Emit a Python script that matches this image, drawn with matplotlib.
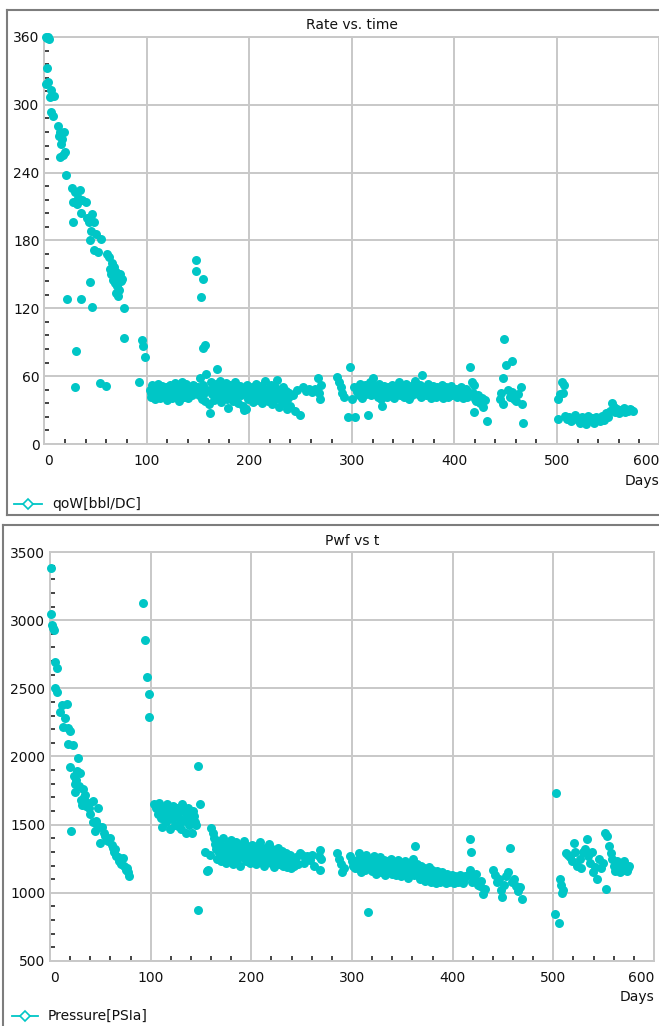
import numpy as np
import matplotlib
matplotlib.use("Agg")
import matplotlib.pyplot as plt
from matplotlib.ticker import MultipleLocator
from matplotlib.lines import Line2D

# ---------------- data (day, value) ----------------
rate_early = [(1,360),(2,359),(3,360),(4,358),(2,333),(1,318),(3,320),(6,313),(5,307),(9,308),
              (6,294),(8,290),(13,281),(15,276),(19,276),(14,272),(17,270),(16,265),(20,258),(15,254),
              (18,256),(21,238),(27,226),(30,223),(35,225),(33,218),(28,214),(37,216),(40,214),(32,212),
              (28,196),(36,204),(41,200),(46,203),(43,196),(48,196),(45,188),(50,186),(44,180),(55,181),
              (48,172),(52,170),(61,168),(63,165),(66,160),(64,155),(68,157),(65,150),(70,152),(72,148),
              (74,150),(67,145),(69,142),(71,140),(75,144),(73,136),(70,134),(72,131),(76,146),(78,120),
              (22,128),(36,128),(44,143),(46,121),(31,82),(78,94),(30,50),(54,54),(60,51),(92,55),
              (95,92),(96,87),(98,77)]
rate_mid1 = [(103,48),(104,42),(105,52),(106,45),(107,50),(108,40),(109,47),(110,44),(111,53),(112,49),
             (113,41),(114,46),(115,51),(116,43),(117,48),(118,45),(119,50),(120,39),(121,47),(122,52),
             (123,44),(124,49),(125,42),(126,46),(127,54),(128,48),(129,43),(130,51),(131,38),(132,47),
             (133,45),(134,55),(135,50),(136,42),(137,48),(138,53),(139,46),(140,41),(141,49),(142,44),
             (143,50),(144,47),(145,52),(146,45),(147,49),(148,48),(104,45),(108,51),(112,43),(116,49),
             (120,46),(124,41),(128,50),(132,44),(136,52),(140,47),(144,43),(146,51),
             (148,163),(148,153),(155,146),(153,130),(155,85),(157,88)]
rate_mid2 = [(150,50),(151,43),(152,58),(153,47),(154,40),(155,52),(156,45),(157,38),(158,62),(159,48),
             (160,35),(161,27),(162,55),(163,44),(164,50),(165,39),(166,47),(167,53),(168,66),(169,42),
             (170,49),(171,56),(172,37),(173,45),(174,51),(175,43),(176,48),(177,54),(178,40),(179,32),
             (180,46),(181,52),(182,44),(183,50),(184,38),(185,47),(186,55),(187,42),(188,48),(189,36),
             (190,45),(191,51),(192,43),(193,49),(194,34),(195,30),(196,46),(197,31),(198,52),(199,40),
             (200,47),(201,44),(202,50),(203,37),(204,48),(205,42),(206,53),(207,45),(208,39),(209,49),
             (210,43),(211,51),(212,36),(213,47),(214,41),(215,56),(216,44),(217,49),(218,38),(219,46),
             (220,42),(221,52),(222,35),(223,47),(224,43),(225,50),(226,40),(227,57),(228,45),(229,33),
             (230,48),(231,42),(232,38),(233,50),(234,44),(235,36),(236,47),(237,31),(238,41),(239,45),
             (240,34),(242,43),(244,29),(246,48),(249,26),(252,50),(255,47),(258,49),(261,46),(264,49),
             (267,58),(268,45),(269,40),(270,52)]
rate_mid3 = [(285,59),(287,55),(289,50),(290,45),(292,42),(298,68),(300,40),(296,24),(303,24),(302,50),
             (305,46),(306,50),(307,43),(308,53),(309,47),(310,41),(311,49),(312,45),(313,52),(314,44),
             (316,26),(317,48),(318,55),(319,43),(320,58),(321,47),(322,51),(323,44),(324,49),(325,42),
             (326,53),(327,46),(328,40),(329,34),(330,48),(331,51),(332,44),(333,47),(334,42),(335,50),
             (336,45),(337,48),(338,43),(339,52),(340,46),(341,41),(342,49),(343,44),(344,51),(345,47),
             (346,55),(347,43),(348,48),(349,45),(350,50),(351,42),(352,47),(353,53),(354,44),(355,49),
             (356,40),(357,46),(358,51),(359,43),(360,48),(361,56),(362,45),(363,50),(364,44),(365,47),
             (366,52),(367,42),(368,61),(369,48),(370,45),(371,50),(372,43),(373,47),(374,53),(375,44),
             (376,49),(377,41),(378,46),(379,51),(380,44),(381,48),(382,42),(383,50),(384,46),(385,43),
             (386,49),(387,45),(388,52),(389,41),(390,47),(391,44),(392,50),(393,46),(394,42),(395,48),
             (396,45),(397,51),(398,43),(399,47),(400,44),(401,49),(402,42),(403,46),(404,48),(405,43),
             (406,50),(407,45),(408,41),(409,47),(410,44),(411,49),(412,42),(413,46)]
rate_late = [(415,68),(417,55),(419,52),(418,45),(420,40),(419,28),(421,38),(423,43),(425,36),(427,41),
             (428,33),(430,39),(432,20),(444,40),(445,45),(447,35),(447,58),(448,93),(450,70),(452,48),
             (454,42),(456,73),(456,46),(458,40),(460,38),(462,44),(465,50),(466,35),(467,19),
             (501,40),(501,22),(503,44),(505,55),(507,52),(506,45),(508,25),(510,22),(512,24),(514,20),
             (516,23),(518,26),(520,21),(522,19),(524,24),(526,22),(528,18),(530,25),(532,21),(534,23),
             (536,19),(538,24),(540,22),(542,20),(544,25),(546,21),(548,27),(550,24),(552,29),(554,36),
             (555,31),(556,33),(557,28),(559,31),(560,27),(562,30),(563,29),(565,32),(566,28),(568,30),
             (569,29),(571,31),(572,30),(574,29)]

pwf_early = [(1,3383),(1,3045),(2,2965),(3,2945),(4,2930),(5,2693),(7,2650),(5,2500),(7,2470),(12,2380),
             (17,2385),(10,2330),(15,2280),(13,2220),(18,2210),(20,2190),(18,2090),(23,2085),(28,1990),(20,1923),
             (27,1890),(30,1880),(25,1800),(29,1780),(33,1760),(25,1740),(35,1720),(31,1680),(38,1660),(32,1645),
             (36,1640),(43,1670),(48,1620),(21,1453),(40,1580),(43,1520),(47,1500),(45,1450),(52,1480),(50,1365),
             (55,1420),(60,1400),(58,1380),(62,1350),(63,1330),(64,1300),(66,1270),(68,1260),(70,1240),(73,1253),
             (74,1200),(75,1170),(76,1180),(78,1120),(77,1150),(71,1210),(69,1230),(65,1320),(57,1390),(54,1440),
             (49,1480),(46,1530),(39,1620),(34,1700),(26,1830),(24,1860),
             (92,3126),(94,2855),(96,2580),(98,2460),(98,2290)]
pwf_mid1 = [(103,1650),(105,1620),(107,1580),(108,1660),(110,1550),(111,1480),(112,1620),(114,1600),(115,1520),(116,1650),
            (118,1570),(119,1470),(120,1610),(121,1540),(122,1640),(124,1500),(125,1580),(126,1620),(128,1550),(129,1600),
            (130,1470),(131,1650),(132,1530),(134,1590),(135,1440),(136,1560),(137,1620),(138,1500),(139,1580),(140,1540),
            (141,1440),(142,1600),(143,1560),(144,1520),(145,1500),(113,1560),(117,1590),(123,1560),(127,1490),(133,1610),
            (147,1930),(149,1650),(147,875),(154,1300),(156,1160),(157,1170),(159,1280),(160,1475),(162,1440),(163,1400),
            (164,1360)]
pwf_mid2 = [(165,1320),(166,1250),(167,1380),(168,1290),(169,1350),(170,1230),(171,1310),(172,1400),(173,1270),(174,1340),
            (175,1220),(176,1300),(177,1360),(178,1250),(179,1320),(180,1390),(181,1280),(182,1210),(183,1330),(184,1290),
            (185,1370),(186,1240),(187,1310),(188,1350),(189,1200),(190,1280),(191,1330),(192,1260),(193,1380),(194,1300),
            (195,1230),(196,1340),(197,1270),(198,1310),(199,1220),(200,1290),(201,1350),(202,1250),(203,1320),(204,1280),
            (205,1210),(206,1340),(207,1300),(208,1260),(209,1370),(210,1230),(211,1310),(212,1280),(213,1200),(214,1330),
            (215,1270),(216,1300),(217,1240),(218,1360),(219,1290),(220,1220),(221,1320),(222,1260),(223,1190),(224,1300),
            (225,1250),(226,1330),(227,1210),(228,1280),(229,1240),(230,1310),(231,1200),(232,1270),(233,1230),(234,1290),
            (235,1190),(236,1250),(237,1220),(238,1280),(239,1180),(240,1240),(242,1200),(244,1260),(246,1210),(248,1290),
            (250,1280),(252,1220),(255,1270),(258,1240),(260,1280),(262,1200),
            (268,1314),(268,1170),(267,1270),(269,1250)]
pwf_mid3 = [(285,1292),(287,1250),(289,1210),(290,1150),(292,1180),(298,1270),(300,1230),(301,1200),(303,1180),
            (305,1240),(306,1180),(307,1290),(308,1210),(309,1150),(310,1260),(311,1200),(312,1230),(313,1170),(314,1280),
            (316,860),(317,1220),(318,1190),(319,1250),(320,1160),(321,1230),(322,1270),(323,1200),(324,1140),(325,1240),
            (326,1180),(327,1210),(328,1260),(329,1150),(330,1220),(331,1190),(332,1240),(333,1130),(334,1200),(335,1170),
            (336,1230),(337,1160),(338,1210),(339,1250),(340,1140),(341,1190),(342,1220),(343,1170),(344,1130),(345,1200),
            (346,1240),(347,1160),(348,1190),(349,1120),(350,1210),(351,1150),(352,1180),(353,1230),(354,1140),(355,1200),
            (356,1110),(357,1170),(358,1220),(359,1150),(360,1190),(361,1250),(362,1130),(363,1340),(364,1180),(365,1210),
            (366,1140),(367,1170),(368,1100),(369,1200),(370,1150),(371,1130),(372,1180),(373,1090),(374,1160),(375,1120),
            (376,1190),(377,1140),(378,1080),(379,1170),(380,1110),(381,1150),(382,1130),(383,1070),(384,1160),(385,1100),
            (386,1140),(387,1080),(388,1120),(389,1150),(390,1090),(391,1130),(392,1100),(393,1070),(394,1140),(395,1110),
            (396,1080),(397,1120),(398,1090),(399,1130),(400,1100),(401,1070),(402,1120),(403,1090),(404,1110),(405,1080),
            (406,1100),(407,1130),(408,1090),(409,1110),(410,1070),(411,1100),(412,1120)]
pwf_late = [(417,1393),(418,1300),(415,1130),(417,1170),(419,1080),(421,1110),(423,1140),(425,1060),(427,1050),(428,1090),
            (430,990),(432,1030),(440,1170),(442,1130),(444,1080),(446,1100),(448,1020),(449,970),(451,1060),(453,1120),
            (455,1150),(457,1330),(459,1080),(461,1100),(463,1050),(465,1010),(467,1040),(469,955),
            (503,1730),(502,845),(506,780),(507,1100),(508,1060),(509,1000),(510,1020),(513,1290),(515,1280),(517,1260),
            (519,1230),(521,1365),(522,1300),(524,1200),(526,1250),(527,1180),(529,1300),(531,1320),(533,1393),(534,1270),
            (536,1220),(538,1300),(539,1150),(541,1190),(543,1100),(545,1250),(547,1180),(549,1220),(551,1440),(553,1420),
            (552,1030),(555,1340),(557,1290),(558,1250),(560,1200),(561,1160),(563,1230),(564,1180),(566,1150),(567,1210),
            (569,1170),(570,1230),(572,1190),(573,1160),(575,1200),(574,1180)]

x_ticks = [0, 100, 200, 300, 400, 500, 600]
rate_ticks = [0, 60, 120, 180, 240, 300, 360]
pwf_ticks = [500, 1000, 1500, 2000, 2500, 3000, 3500]

# ---------------- figure ----------------
W, H = 659, 1026
fig = plt.figure(figsize=(W / 100, H / 100), dpi=100)
fig.patch.set_facecolor("white")

DOT = "#00c6c6"
GRID = "#c8c8c8"
TXT = "#111111"


def fx(x):
    return x / W


def fy(y):
    return 1 - y / H


def px_axes(l, t, r, b):
    return fig.add_axes([fx(l), fy(b), (r - l) / W, (b - t) / H])


def style(ax, xmin_loc, ymin_loc):
    ax.set_facecolor("white")
    ax.grid(True, color=GRID, linewidth=1.4)
    ax.set_axisbelow(True)
    for s in ax.spines.values():
        s.set_color(GRID)
        s.set_linewidth(1.4)
    ax.xaxis.set_minor_locator(MultipleLocator(xmin_loc))
    ax.yaxis.set_minor_locator(MultipleLocator(ymin_loc))
    ax.tick_params(which="major", length=0, labelsize=10, colors=TXT)
    ax.tick_params(which="minor", direction="in", length=3.8, width=1.1, color="#111111")
    ax.tick_params(axis="x", which="major", pad=7.5)
    ax.tick_params(axis="y", which="major", pad=3.5)


def frame(lines):
    for (x0, y0, x1, y1) in lines:
        fig.add_artist(Line2D([fx(x0), fx(x1)], [fy(y0), fy(y1)], color="#7d7d7d",
                              linewidth=1.5, transform=fig.transFigure))


def legend(x0, x1, y, xt, label):
    fig.add_artist(Line2D([fx(x0), fx(x1)], [fy(y), fy(y)], color=DOT, linewidth=1.3,
                          transform=fig.transFigure))
    fig.add_artist(Line2D([fx((x0 + x1) / 2)], [fy(y)], marker="D", markersize=5.5,
                          markerfacecolor="white", markeredgecolor=DOT, markeredgewidth=1.2,
                          linestyle="none", transform=fig.transFigure))
    fig.text(fx(xt), fy(y), label, fontsize=10, va="center", ha="left", color=TXT)


# frames
frame([(7, 10, 659, 10), (7, 10, 7, 515), (7, 515, 659, 515)])
frame([(3, 525, 659, 525), (3, 525, 3, 1026)])

# ---- top panel ----
ax1 = px_axes(44.5, 37, 659.5, 444)
rate = np.array(rate_early + rate_mid1 + rate_mid2 + rate_mid3 + rate_late, dtype=float)
ax1.scatter(rate[:, 0], rate[:, 1], s=42, color=DOT, linewidths=0, clip_on=False, zorder=3)
ax1.set_xlim(0, 600)
ax1.set_ylim(0, 360)
ax1.set_xticks(x_ticks)
ax1.set_yticks(rate_ticks)
style(ax1, 20, 12)
fig.text(fx(352), fy(25), "Rate vs. time", fontsize=10, ha="center", va="center", color=TXT)
fig.text(fx(659), fy(481), "Days", fontsize=10, ha="right", va="center", color=TXT)
legend(14, 42, 504, 52, "qoW[bbl/DC]")

# ---- bottom panel ----
ax2 = px_axes(50, 552, 654, 961)
pwf = np.array(pwf_early + pwf_mid1 + pwf_mid2 + pwf_mid3 + pwf_late, dtype=float)
ax2.scatter(pwf[:, 0], pwf[:, 1], s=42, color=DOT, linewidths=0, clip_on=False, zorder=3)
ax2.set_xlim(0, 600)
ax2.set_ylim(500, 3500)
ax2.set_xticks(x_ticks)
ax2.set_yticks(pwf_ticks)
style(ax2, 20, 100)
fig.text(fx(352), fy(541), "Pwf vs t", fontsize=10, ha="center", va="center", color=TXT)
fig.text(fx(654), fy(997), "Days", fontsize=10, ha="right", va="center", color=TXT)
legend(12, 38, 1016, 48, "Pressure[PSIa]")

for ax in (ax1, ax2):
    ticks = ax.xaxis.get_major_ticks()
    ticks[0].label1.set_horizontalalignment("left")
    ticks[-1].label1.set_horizontalalignment("right")

fig.savefig("out.png", dpi=100, facecolor="white")
